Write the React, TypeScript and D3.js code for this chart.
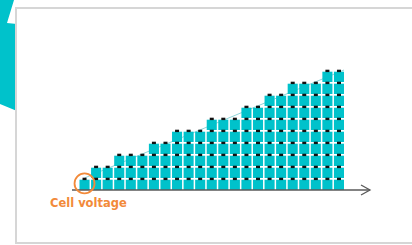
import { useEffect, useRef } from "react";
import * as d3 from "d3";

// number of stacked cells in each column, left to right
const columns = [1, 2, 2, 3, 3, 3, 4, 4, 5, 5, 5, 6, 6, 6, 7, 7, 8, 8, 9, 9, 9, 10, 10];
const maxCells = 10;
const axisLabel = "Cell voltage";

const TEAL = "#00c2cb";
const ORANGE = "#f28a3a";

export default function App() {
  const ref = useRef<SVGSVGElement | null>(null);

  useEffect(() => {
    const svgEl = ref.current;
    if (!svgEl) return;
    const svg = d3.select(svgEl);
    svg.selectAll("*").remove();

    const x = d3
      .scaleBand<number>()
      .domain(columns.map((_, i) => i))
      .range([79.5, 344])
      .paddingInner(0.13)
      .paddingOuter(0);
    const y = d3.scaleLinear().domain([0, maxCells]).range([190, 70]);
    const step = y(0) - y(1);

    // teal card peeking out behind the frame
    svg
      .append("polygon")
      .attr("points", "0,0 14,0 7,23 17,24 17,111 0,104")
      .attr("fill", TEAL);

    // white card frame
    svg
      .append("rect")
      .attr("x", 16)
      .attr("y", 8)
      .attr("width", 420)
      .attr("height", 235)
      .attr("fill", "#fff")
      .attr("stroke", "#d6d6d6")
      .attr("stroke-width", 2);

    // faint trend line across the step tops
    const first = 0;
    const last = columns.length - 1;
    svg
      .append("line")
      .attr("x1", (x(first) ?? 0) + x.bandwidth() / 2)
      .attr("y1", y(columns[first]))
      .attr("x2", (x(last) ?? 0) + x.bandwidth())
      .attr("y2", y(columns[last]))
      .attr("stroke", "#8fd6da")
      .attr("stroke-width", 1);

    const cells = columns.flatMap((h, i) => d3.range(h).map((k) => ({ i, k })));

    const g = svg.append("g");
    g.selectAll("rect.cell")
      .data(cells)
      .join("rect")
      .attr("class", "cell")
      .attr("x", (d) => x(d.i) ?? 0)
      .attr("y", (d) => y(d.k + 1) + 1.7)
      .attr("width", x.bandwidth())
      .attr("height", step - 1.7)
      .attr("fill", TEAL);

    // battery terminals
    g.selectAll("rect.term")
      .data(cells)
      .join("rect")
      .attr("class", "term")
      .attr("x", (d) => (x(d.i) ?? 0) + x.bandwidth() / 2 - 2)
      .attr("y", (d) => y(d.k + 1) - 0.3)
      .attr("width", 4)
      .attr("height", 2.4)
      .attr("fill", "#111");

    // axis with open arrow
    const ax0 = 72;
    const ax1 = 370;
    svg
      .append("line")
      .attr("x1", ax0)
      .attr("x2", ax1)
      .attr("y1", y(0))
      .attr("y2", y(0))
      .attr("stroke", "#5a5a5a")
      .attr("stroke-width", 1.3);
    svg
      .append("polyline")
      .attr("points", `${ax1 - 9},${y(0) - 5} ${ax1},${y(0)} ${ax1 - 9},${y(0) + 5}`)
      .attr("fill", "none")
      .attr("stroke", "#5a5a5a")
      .attr("stroke-width", 1.3);

    // highlight of the single cell
    svg
      .append("circle")
      .attr("cx", (x(0) ?? 0) + x.bandwidth() / 2)
      .attr("cy", y(0.55))
      .attr("r", 10)
      .attr("fill", "none")
      .attr("stroke", ORANGE)
      .attr("stroke-width", 1.8);

    svg
      .append("text")
      .attr("x", 50)
      .attr("y", 207)
      .attr("fill", ORANGE)
      .style("font", "bold 11.5px 'DejaVu Sans', sans-serif")
      .text(axisLabel);
  }, []);

  return (
    <svg
      ref={ref}
      width={412}
      height={245}
      style={{ position: "absolute", left: 0, top: 0, background: "#fff" }}
    />
  );
}
